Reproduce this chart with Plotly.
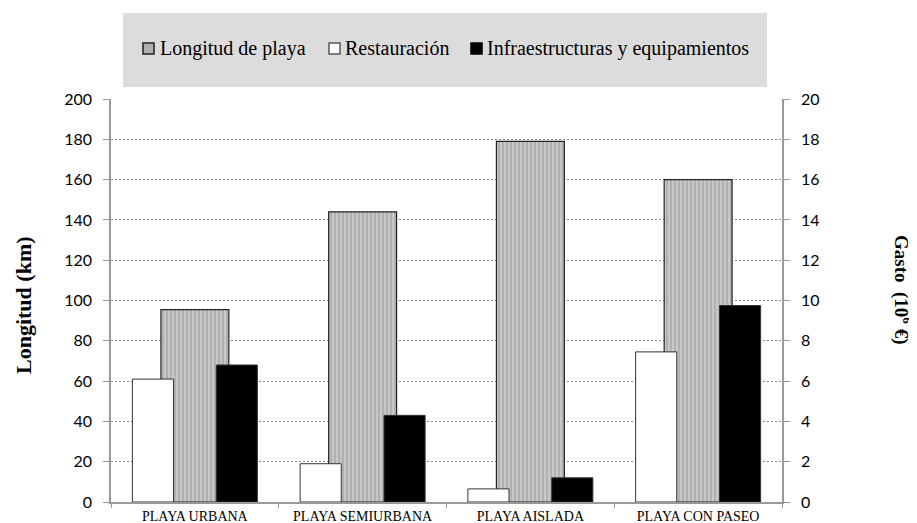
import plotly.graph_objects as go

categories = ["PLAYA URBANA", "PLAYA SEMIURBANA", "PLAYA AISLADA", "PLAYA CON PASEO"]
longitud = [95.5, 144, 179, 160]
restauracion = [6.1, 1.9, 0.65, 7.45]
infraestructuras = [6.8, 4.3, 1.2, 9.75]

series_names = ["Longitud de playa", "Restauración", "Infraestructuras y equipamientos"]

left_ticks = list(range(0, 201, 20))
right_ticks = list(range(0, 21, 2))

serif = "Liberation Serif"
sans = "Lato"

# the page body has an 8px default margin; compensate so the plot lands on target pixels
W, H = 917, 523
L, R, T, B = 103, 143, 91, 29
PW, PH = W - L - R, H - T - B


def px(x):
    return (x - 111) / PW


def py(y):
    return (502 - y) / PH


fig = go.Figure()
fig.add_trace(go.Bar(
    x=categories, y=longitud, name=series_names[0], yaxis="y",
    width=0.405, offset=-0.2025,
    marker=dict(color="#b5b5b5", line=dict(color="#222222", width=1.2),
                pattern=dict(shape="|", fillmode="overlay", fgcolor="#f2f2f2",
                             bgcolor="#b0b0b0", size=4, solidity=0.35)),
))
fig.add_trace(go.Bar(
    x=categories, y=restauracion, name=series_names[1], yaxis="y2",
    width=0.245, offset=-0.3725,
    marker=dict(color="white", line=dict(color="#333333", width=1)),
))
fig.add_trace(go.Bar(
    x=categories, y=infraestructuras, name=series_names[2], yaxis="y2",
    width=0.245, offset=0.1275,
    marker=dict(color="black", line=dict(color="#333333", width=1)),
))

# legend box and entries (drawn to match the reference layout)
shapes = [dict(type="rect", xref="paper", yref="paper", x0=px(123), x1=px(767),
               y0=py(87), y1=py(13), fillcolor="#dcdcdc", line=dict(width=0),
               layer="below")]
sym_x = [143, 329, 471]
txt_x = [158, 343, 485]
sym_fill = ["#b0b0b0", "white", "black"]
sym_line = ["#222222", "#555555", "black"]
annotations = []
for i, name in enumerate(series_names):
    shapes.append(dict(type="rect", xref="paper", yref="paper",
                       x0=px(sym_x[i]), x1=px(sym_x[i] + 11), y0=py(54), y1=py(43),
                       fillcolor=sym_fill[i], line=dict(color=sym_line[i], width=1.5)))
    annotations.append(dict(text=name, xref="paper", yref="paper", x=px(txt_x[i]), y=py(48),
                            xanchor="left", yanchor="middle", showarrow=False,
                            font=dict(family=serif, size=20, color="black")))

annotations += [
    dict(text="<b>Longitud (km)</b>", xref="paper", yref="paper", x=px(23), y=py(305),
         xanchor="center", yanchor="middle",
         textangle=-90, showarrow=False, font=dict(family=serif, size=22, color="black")),
    dict(text="<b>Gasto  (10<sup>6</sup> €)</b>", xref="paper", yref="paper", x=px(903), y=py(290),
         xanchor="center", yanchor="middle",
         textangle=90, showarrow=False, font=dict(family=serif, size=19, color="black")),
]

fig.update_layout(
    width=W, height=H,
    margin=dict(l=L, r=R, t=T, b=B, autoexpand=False),
    paper_bgcolor="white", plot_bgcolor="white",
    barmode="overlay",
    showlegend=False,
    xaxis=dict(showline=True, linecolor="#999999", linewidth=1.5, ticks="outside",
               tickson="boundaries", ticklen=4, tickcolor="#999999", automargin=False,
               tickfont=dict(family=serif, size=14, color="black"), showgrid=False),
    yaxis=dict(range=[0, 200], tickvals=left_ticks, showline=True, linecolor="#999999",
               linewidth=1.5, ticks="outside", ticklen=6, tickcolor="#999999",
               ticklabelstandoff=8, automargin=False,
               tickfont=dict(family=sans, size=16, color="black"),
               showgrid=True, gridcolor="#8a8a8a", griddash="2px,2px", gridwidth=1,
               zeroline=False),
    yaxis2=dict(range=[0, 20], tickvals=right_ticks, overlaying="y", side="right",
                showline=True, linecolor="#999999", linewidth=1.5, ticks="outside",
                ticklen=6, tickcolor="#999999", ticklabelstandoff=8, automargin=False,
                tickfont=dict(family=sans, size=16, color="black"),
                showgrid=False, zeroline=False),
    shapes=shapes,
    annotations=annotations,
)

fig.write_html("out.html")
